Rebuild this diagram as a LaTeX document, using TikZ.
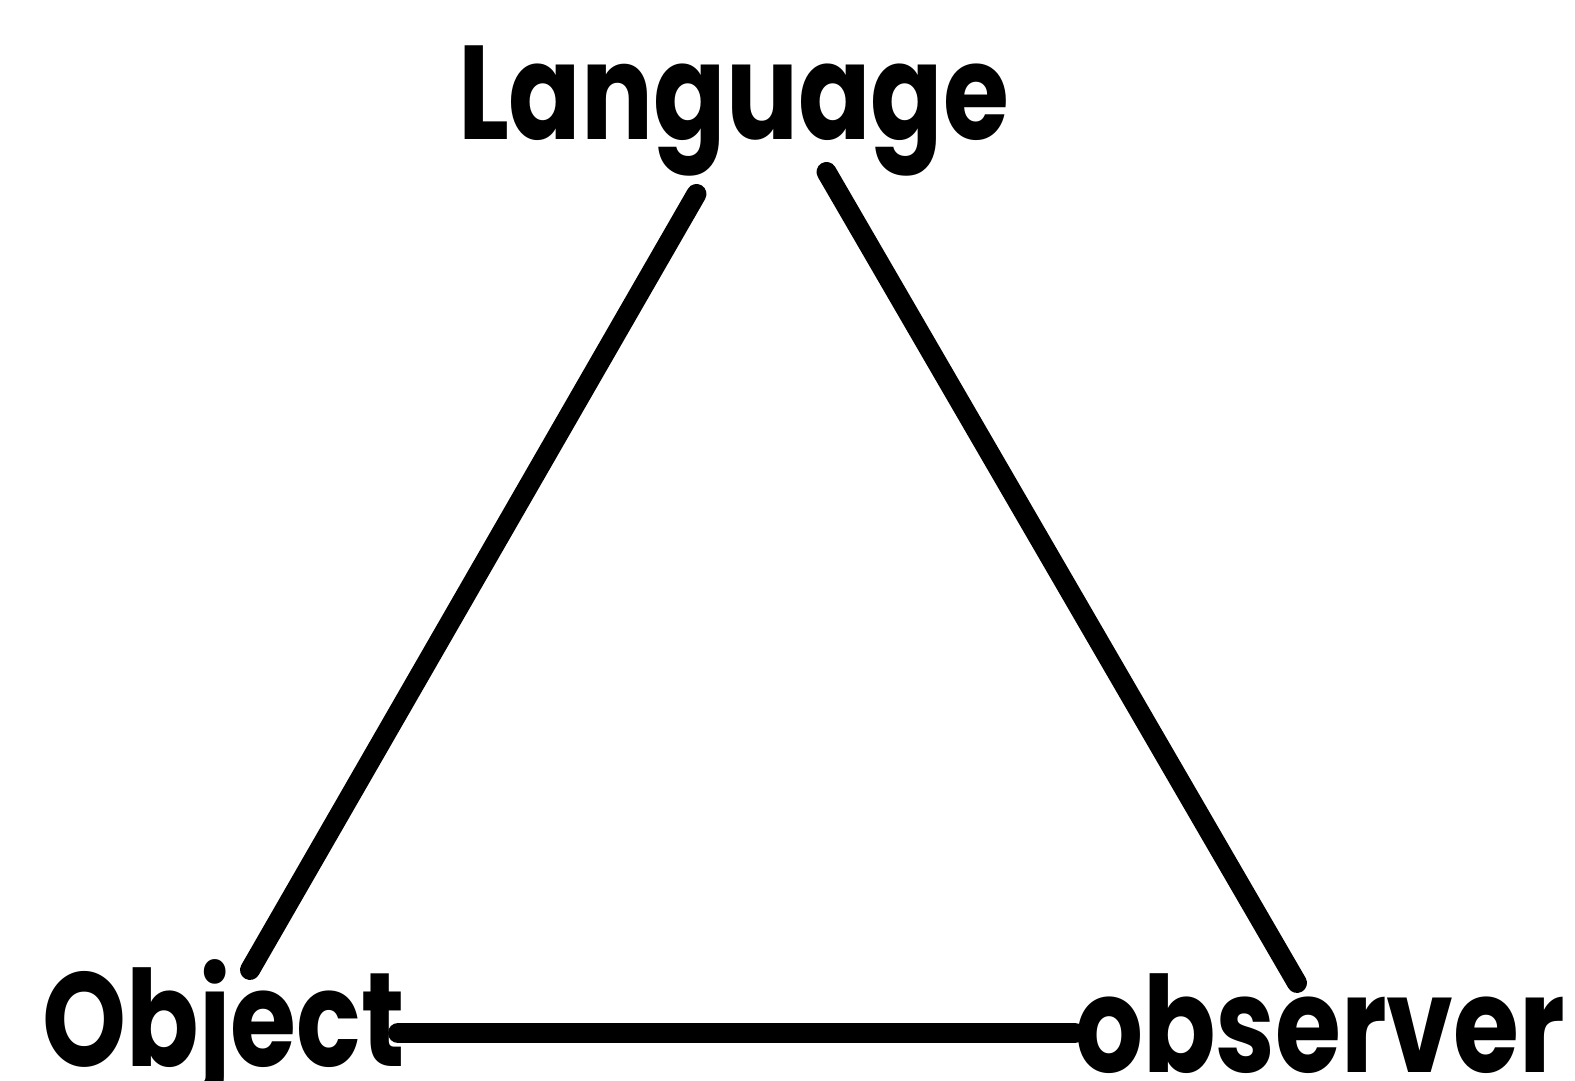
\documentclass[tikz,border=0pt]{standalone}
\usepackage{fontspec}
\setmainfont{Poppins}[FakeStretch=0.8]

\begin{document}
\begin{tikzpicture}[
    every node/.style={font=\fontsize{38}{38}\selectfont\bfseries, inner sep=0pt},
    corner/.style={text=black},
    side/.style={line width=0.2cm, line cap=round}
  ]
  \useasboundingbox (0,0) rectangle (15.75,10.81);
  \node[corner, anchor=base] (lang) at (7.335,9.41) {Language};
  \node[corner, anchor=base west] (obj) at (0.42,0.14) {Object};
  \node[corner, anchor=base east] (obs) at (15.66,0.08) {observer};
  \draw[side] ([shift={(-0.37,-0.54)}]lang.base) -- ([shift={(2.08,0.97)}]obj.base west);
  \draw[side] ([shift={(0.93,-0.32)}]lang.base) -- ([shift={(-2.69,0.90)}]obs.base east);
  \draw[side] ([shift={(3.56,0.34)}]obj.base west) -- ([shift={(-4.91,0.40)}]obs.base east);
\end{tikzpicture}
\end{document}
